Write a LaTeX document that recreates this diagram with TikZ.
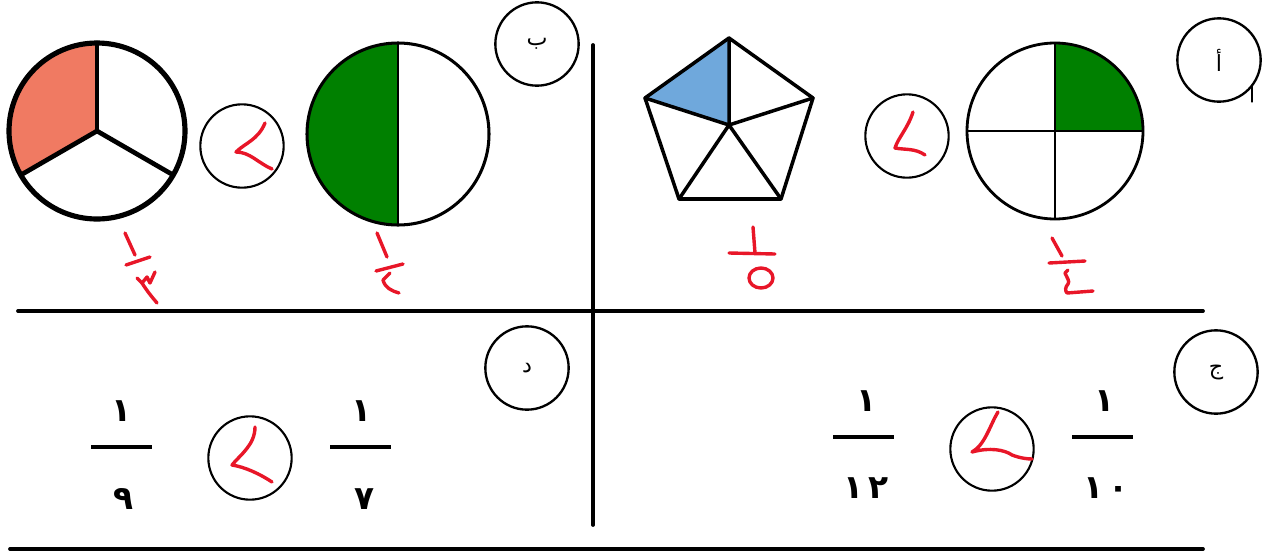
\documentclass[tikz,border=0pt]{standalone}
\usepackage{fontspec}
\usepackage{xcolor}
\newfontfamily\arabicfont[Script=Arabic]{DejaVu Sans}
\TeXXeTstate=1

\definecolor{penred}{RGB}{232,22,40}
\definecolor{sectorgreen}{RGB}{0,128,0}
\definecolor{sectorblue}{RGB}{111,168,220}
\definecolor{sectororange}{RGB}{240,122,98}

\begin{document}
\begin{tikzpicture}[x=0.03cm, y=-0.03cm, line cap=round, line join=round,
	rule/.style={line width=3.2pt},
	badge/.style={circle, draw, line width=2pt, minimum size=2.5cm, inner sep=0pt,
		font=\arabicfont\fontsize{19}{20}\selectfont},
	cmp/.style={circle, draw, line width=1.8pt, minimum size=2.5cm, inner sep=0pt},
	pen/.style={draw=penred, line width=2.9pt},
	digit/.style={font=\arabicfont\bfseries\fontsize{28}{30}\selectfont, inner sep=0pt},
	bar/.style={line width=4pt, line cap=butt}]
	
	\useasboundingbox (0,0) rectangle (1265,554);
	
	% Frame lines
	\draw[rule] (593,45) -- (593,525);
	\draw[rule] (18,311) -- (1203,311);
	\draw[rule] (10,549) -- (1203,549);
	
	% Part labels
	\node[badge] (partA) at (1219,60) {\beginR أ\endR};
	\node[badge] (partB) at (537,44) {\beginR ب\endR};
	\node[badge] (partC) at (1216,372) {\beginR ج\endR};
	\node[badge] (partD) at (527,368) {\beginR د\endR};
	\draw[line width=1pt] (1252,86) -- (1252,102);
	
	% Circle in thirds
	\fill[sectororange] (97,131) -- ++(-90:88) arc[start angle=-90, end angle=-210, radius=88] -- cycle;
	\draw[line width=4.4pt] (97,131) circle (88);
	\draw[line width=4pt] (97,131) -- ++(-90:88);
	\draw[line width=4pt] (97,131) -- ++(-210:88);
	\draw[line width=4pt] (97,131) -- ++(-330:88);
	
	% Circle in halves
	\fill[sectorgreen] (398,134) -- ++(-90:91) arc[start angle=-90, end angle=-270, radius=91] -- cycle;
	\draw[line width=2.6pt] (398,134) circle (91);
	\draw[line width=2pt] (398,43) -- (398,225);
	
	% Pentagon in fifths
	\coordinate (pT) at (729,38);
	\coordinate (pL) at (645,98);
	\coordinate (pR) at (813,98);
	\coordinate (pBL) at (679,199);
	\coordinate (pBR) at (781,199);
	\coordinate (pM) at (729,125);
	\fill[sectorblue] (pT) -- (pL) -- (pM) -- cycle;
	\draw[line width=3pt] (pT) -- (pR) -- (pBR) -- (pBL) -- (pL) -- cycle;
	\draw[line width=3pt] (pT) -- (pM) (pL) -- (pM) (pR) -- (pM) (pBL) -- (pM) (pBR) -- (pM);
	
	% Circle in quarters
	\fill[sectorgreen] (1055,131) -- ++(0:88) arc[start angle=0, end angle=-90, radius=88] -- cycle;
	\draw[line width=2.4pt] (1055,131) circle (88);
	\draw[line width=2pt] (1055,43) -- (1055,219) (967,131) -- (1143,131);
	
	% Comparison circles
	\node[cmp] (cmpB) at (242,146) {};
	\node[cmp] (cmpA) at (907,136) {};
	\node[cmp] (cmpD) at (250,458) {};
	\node[cmp] (cmpC) at (992,449) {};
	
	% Handwritten signs
	\draw[pen] (265,123) .. controls (258,140) and (245,143) .. (236,152)
	.. controls (250,152) and (258,163) .. (272,169);
	\draw[pen] (913,112) .. controls (908,128) and (898,138) .. (895,148)
	.. controls (905,150) and (915,148) .. (925,155);
	\draw[pen] (255,427) .. controls (255,445) and (240,455) .. (232,465)
	.. controls (245,467) and (260,474) .. (272,482);
	\draw[pen] (998,412) .. controls (990,425) and (985,445) .. (972,452)
	.. controls (990,447) and (1005,450) .. (1012,455)
	.. controls (1020,458) and (1027,459) .. (1032,459);
	
	% Handwritten fractions
	\draw[pen] (125,233) -- (135,255);
	\draw[pen] (126,265) -- (150,257);
	\draw[pen] (137,278) -- (142,283) -- (147,277) -- (150,283) -- (155,272);
	\draw[pen] (142,283) .. controls (147,291) and (152,297) .. (157,303);
	
	\draw[pen] (377,233) -- (387,257);
	\draw[pen] (376,271) -- (403,264);
	\draw[pen] (390,273) -- (383,280) .. controls (385,288) and (392,291) .. (399,293);
	
	\draw[pen] (753,227) -- (755,253);
	\draw[pen] (729,253) -- (775,254);
	\draw[pen] (761,278) circle [x radius=12, y radius=10];
	
	\draw[pen] (1052,238) -- (1062,256);
	\draw[pen] (1049,263) -- (1085,261);
	\draw[pen] (1068,270) -- (1065,273) .. controls (1067,278) and (1070,281) .. (1068,284)
	.. controls (1065,287) and (1065,291) .. (1067,293) -- (1093,291);
	
	% Typed fractions
	\draw[bar] (91,447) -- (152,447);
	\node[digit] (numNine) at (122,411) {١};
	\node[digit] (denNine) at (124,499) {٩};
	
	\draw[bar] (330,447) -- (391,447);
	\node[digit] (numSeven) at (362,411) {١};
	\node[digit] (denSeven) at (365,499) {٧};
	
	\draw[bar] (833,437) -- (894,437);
	\node[digit] (numTwelve) at (866,401) {١};
	\node[digit] (denTwelve) at (866,488) {١\,٢};
	
	\draw[bar] (1072,437) -- (1133,437);
	\node[digit] (numTen) at (1104,401) {١};
	\node[digit] (denTen) at (1106,488) {١\,٠};
	
\end{tikzpicture}
\end{document}
